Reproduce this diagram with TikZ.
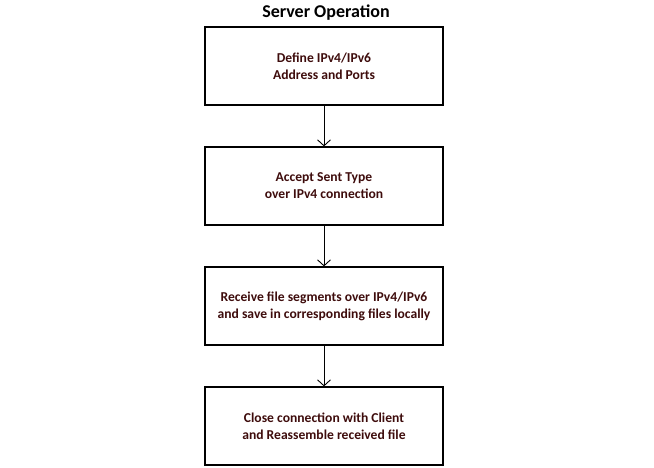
\documentclass[tikz,border=0pt]{standalone}
\usepackage{fontspec}
\setmainfont{Carlito}
\usepackage{xcolor}
\usepackage{tikz}
\usetikzlibrary{arrows.meta}
\usetikzlibrary{positioning}

\definecolor{steptext}{RGB}{62,12,12}

\begin{document}
\begin{tikzpicture}[x=1pt, y=1pt, node distance=40.8pt,
  stepbox/.style={draw=black, line width=1.2pt, minimum width=238pt, minimum height=78pt,
    align=center, text=steptext, font=\bfseries\fontsize{13.6}{17}\selectfont},
  flow/.style={draw=black, line width=0.9pt, -{Straight Barb[length=6pt, width=13pt]}}]
  \useasboundingbox (0,0) rectangle (654,-468);
  \node[font=\bfseries\fontsize{18}{21}\selectfont] (title) at (326,-13) {Server Operation};
  \node[stepbox] (define) at (324,-66) {Define IPv4/IPv6\\Address and Ports};
  \node[stepbox, below=of define] (accept) {Accept Sent Type\\over IPv4 connection};
  \node[stepbox, below=of accept] (receive) {Receive file segments over IPv4/IPv6\\and save in corresponding files locally};
  \node[stepbox, below=of receive] (close) {Close connection with Client\\and Reassemble received file};
  \draw[flow] (define) -- (accept);
  \draw[flow] (accept) -- (receive);
  \draw[flow] (receive) -- (close);
\end{tikzpicture}
\end{document}
